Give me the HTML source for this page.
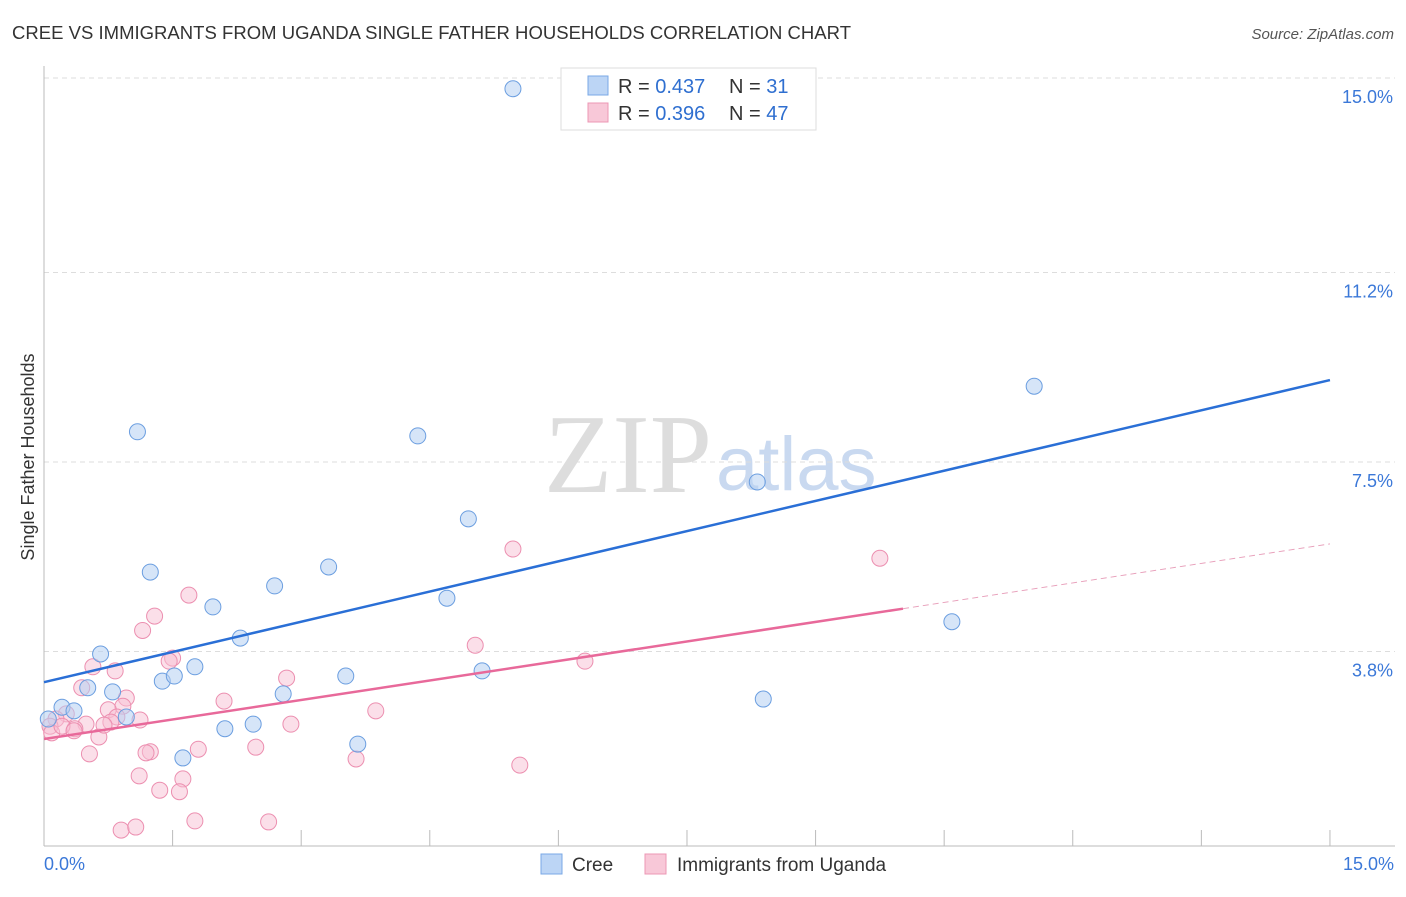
<!DOCTYPE html>
<html><head><meta charset="utf-8"><style>
body{margin:0;background:#fff;font-family:"Liberation Sans",sans-serif}
</style></head><body>
<svg width="1406" height="892" viewBox="0 0 1406 892" xmlns="http://www.w3.org/2000/svg">
<text x="12" y="39" font-size="18.5" fill="#333" textLength="839">CREE VS IMMIGRANTS FROM UGANDA SINGLE FATHER HOUSEHOLDS CORRELATION CHART</text>
<text x="1394" y="39" font-size="15" fill="#555" font-style="italic" text-anchor="end">Source: ZipAtlas.com</text>
<text x="712" y="492" font-size="112" fill="#ddd" font-family="Liberation Serif" text-anchor="end">ZIP</text>
<text x="716" y="490" font-size="76" fill="#c9d9f0">atlas</text>
<g id="grid"></g><g id="axes"></g><g id="marks"></g>
<text transform="translate(34,457) rotate(-90)" font-size="18" fill="#333" text-anchor="middle">Single Father Households</text>
<rect x="561" y="68" width="255" height="62" fill="#fff" stroke="#ddd"/>
<rect x="588" y="76" width="20" height="19" fill="#bcd5f5" stroke="#7aa8e6"/>
<rect x="588" y="103" width="20" height="19" fill="#f8c8d8" stroke="#ec97b4"/>
<text x="618" y="93" font-size="20" fill="#333">R = <tspan fill="#2f6fd0">0.437</tspan></text>
<text x="729" y="93" font-size="20" fill="#333">N = <tspan fill="#2f6fd0"> 31</tspan></text>
<text x="618" y="120" font-size="20" fill="#333">R = <tspan fill="#2f6fd0">0.396</tspan></text>
<text x="729" y="120" font-size="20" fill="#333">N = <tspan fill="#2f6fd0">47</tspan></text>
<rect x="541" y="854" width="21" height="20" fill="#bcd5f5" stroke="#7aa8e6"/>
<text x="572" y="871" font-size="19" fill="#333">Cree</text>
<rect x="645" y="854" width="21" height="20" fill="#f8c8d8" stroke="#ec97b4"/>
<text x="677" y="871" font-size="19" fill="#333">Immigrants from Uganda</text>
</svg>
<script>
const yTicks=[15.0,11.2,7.5,3.8];
const yTickLabels=["15.0%","11.2%","7.5%","3.8%"];
const xTickLabels=["0.0%","15.0%"];
const creeX=[5.47,1.09,4.36,11.55,8.32,4.95,1.24,3.32,2.69,1.97,4.70,10.59,2.29,0.66,1.76,1.38,1.52,0.51,0.80,2.79,3.52,5.11,8.39,0.21,0.35,0.96,0.05,2.11,2.44,3.66,1.62];
const creeY=[14.79,8.09,8.01,8.98,7.11,6.39,5.35,5.45,5.08,4.67,4.84,4.38,4.06,3.75,3.50,3.22,3.32,3.09,3.01,2.97,3.32,3.42,2.87,2.71,2.64,2.52,2.48,2.29,2.38,1.99,1.72];
const ugX=[5.47,9.75,1.29,1.69,1.15,5.03,6.31,1.50,1.46,0.57,0.83,2.83,0.44,2.10,0.96,0.92,0.75,0.85,1.12,2.88,3.87,0.49,0.26,0.14,0.07,0.09,0.64,0.36,0.21,1.24,1.19,1.80,2.47,0.53,3.64,5.55,1.11,1.62,1.35,1.58,1.76,2.62,0.90,1.07,0.35,0.78,0.70];
const ugY=[5.80,5.62,4.49,4.90,4.21,3.92,3.61,3.67,3.61,3.50,3.42,3.28,3.09,2.83,2.89,2.73,2.66,2.52,2.46,2.38,2.64,2.38,2.58,2.48,2.34,2.21,2.13,2.29,2.34,1.84,1.82,1.89,1.93,1.80,1.70,1.58,1.37,1.31,1.09,1.06,0.49,0.47,0.31,0.37,2.25,2.42,2.36];
const creeFit=[3.20,9.10];
const ugFit=[2.09,5.90];
const ugSolidEnd=10.02;
const X=v=>44+v*85.73, Y=v=>846-v*51.2;
const NS="http://www.w3.org/2000/svg";
function mk(p,t,a){const e=document.createElementNS(NS,t);for(const k in a)e.setAttribute(k,a[k]);document.getElementById(p).appendChild(e);return e;}
yTicks.forEach((t,i)=>{
 const l=mk('grid','line',{x1:44,x2:1395,y1:Y(t),y2:Y(t),stroke:'#ddd','stroke-dasharray':'5,4'});
 
 
 const tx=mk('grid','text',{x:1393,y:Y(t)+25,'font-size':18,fill:'#3b78d8','text-anchor':'end'});
 tx.textContent=yTickLabels[i];
 
 
});
const ax=mk('axes','line',{x1:44,x2:44,y1:66,y2:846,stroke:'#bbb'});


const bx=mk('axes','line',{x1:44,x2:1395,y1:846,y2:846,stroke:'#bbb'});


for(let i=1;i<=10;i++){
 const t=mk('axes','line',{x1:X(i*1.5),x2:X(i*1.5),y1:830,y2:846,stroke:'#bbb'});
 
 
}
[[0,'start',44],[15,'end',1394]].forEach((d,i)=>{
 const t=mk('axes','text',{x:d[2],y:870,'font-size':18,fill:'#3b78d8','text-anchor':d[1]});
 t.textContent=xTickLabels[i];
 
 
});
ugX.forEach((x,i)=>{
 const c=mk('marks','circle',{cx:X(x),cy:Y(ugY[i]),r:8,fill:'#f8c0d3','fill-opacity':0.5,stroke:'#ec8fb0','stroke-width':1});
 
 
});
creeX.forEach((x,i)=>{
 const c=mk('marks','circle',{cx:X(x),cy:Y(creeY[i]),r:8,fill:'#b5d0f3','fill-opacity':0.55,stroke:'#6b9ee0','stroke-width':1});
 
 
});
const ugAt=x=>ugFit[0]+(ugFit[1]-ugFit[0])*x/15;
const l1=mk('marks','line',{x1:X(0),y1:Y(creeFit[0]),x2:X(15),y2:Y(creeFit[1]),stroke:'#2a6fd6','stroke-width':2.5});


const l2=mk('marks','line',{x1:X(0),y1:Y(ugFit[0]),x2:X(ugSolidEnd),y2:Y(ugAt(ugSolidEnd)),stroke:'#e8699a','stroke-width':2.5});


const l3=mk('marks','line',{x1:X(ugSolidEnd),y1:Y(ugAt(ugSolidEnd)),x2:X(15),y2:Y(ugFit[1]),stroke:'#e8a0bb','stroke-width':1,'stroke-dasharray':'6,4'});


</script>
</body></html>
